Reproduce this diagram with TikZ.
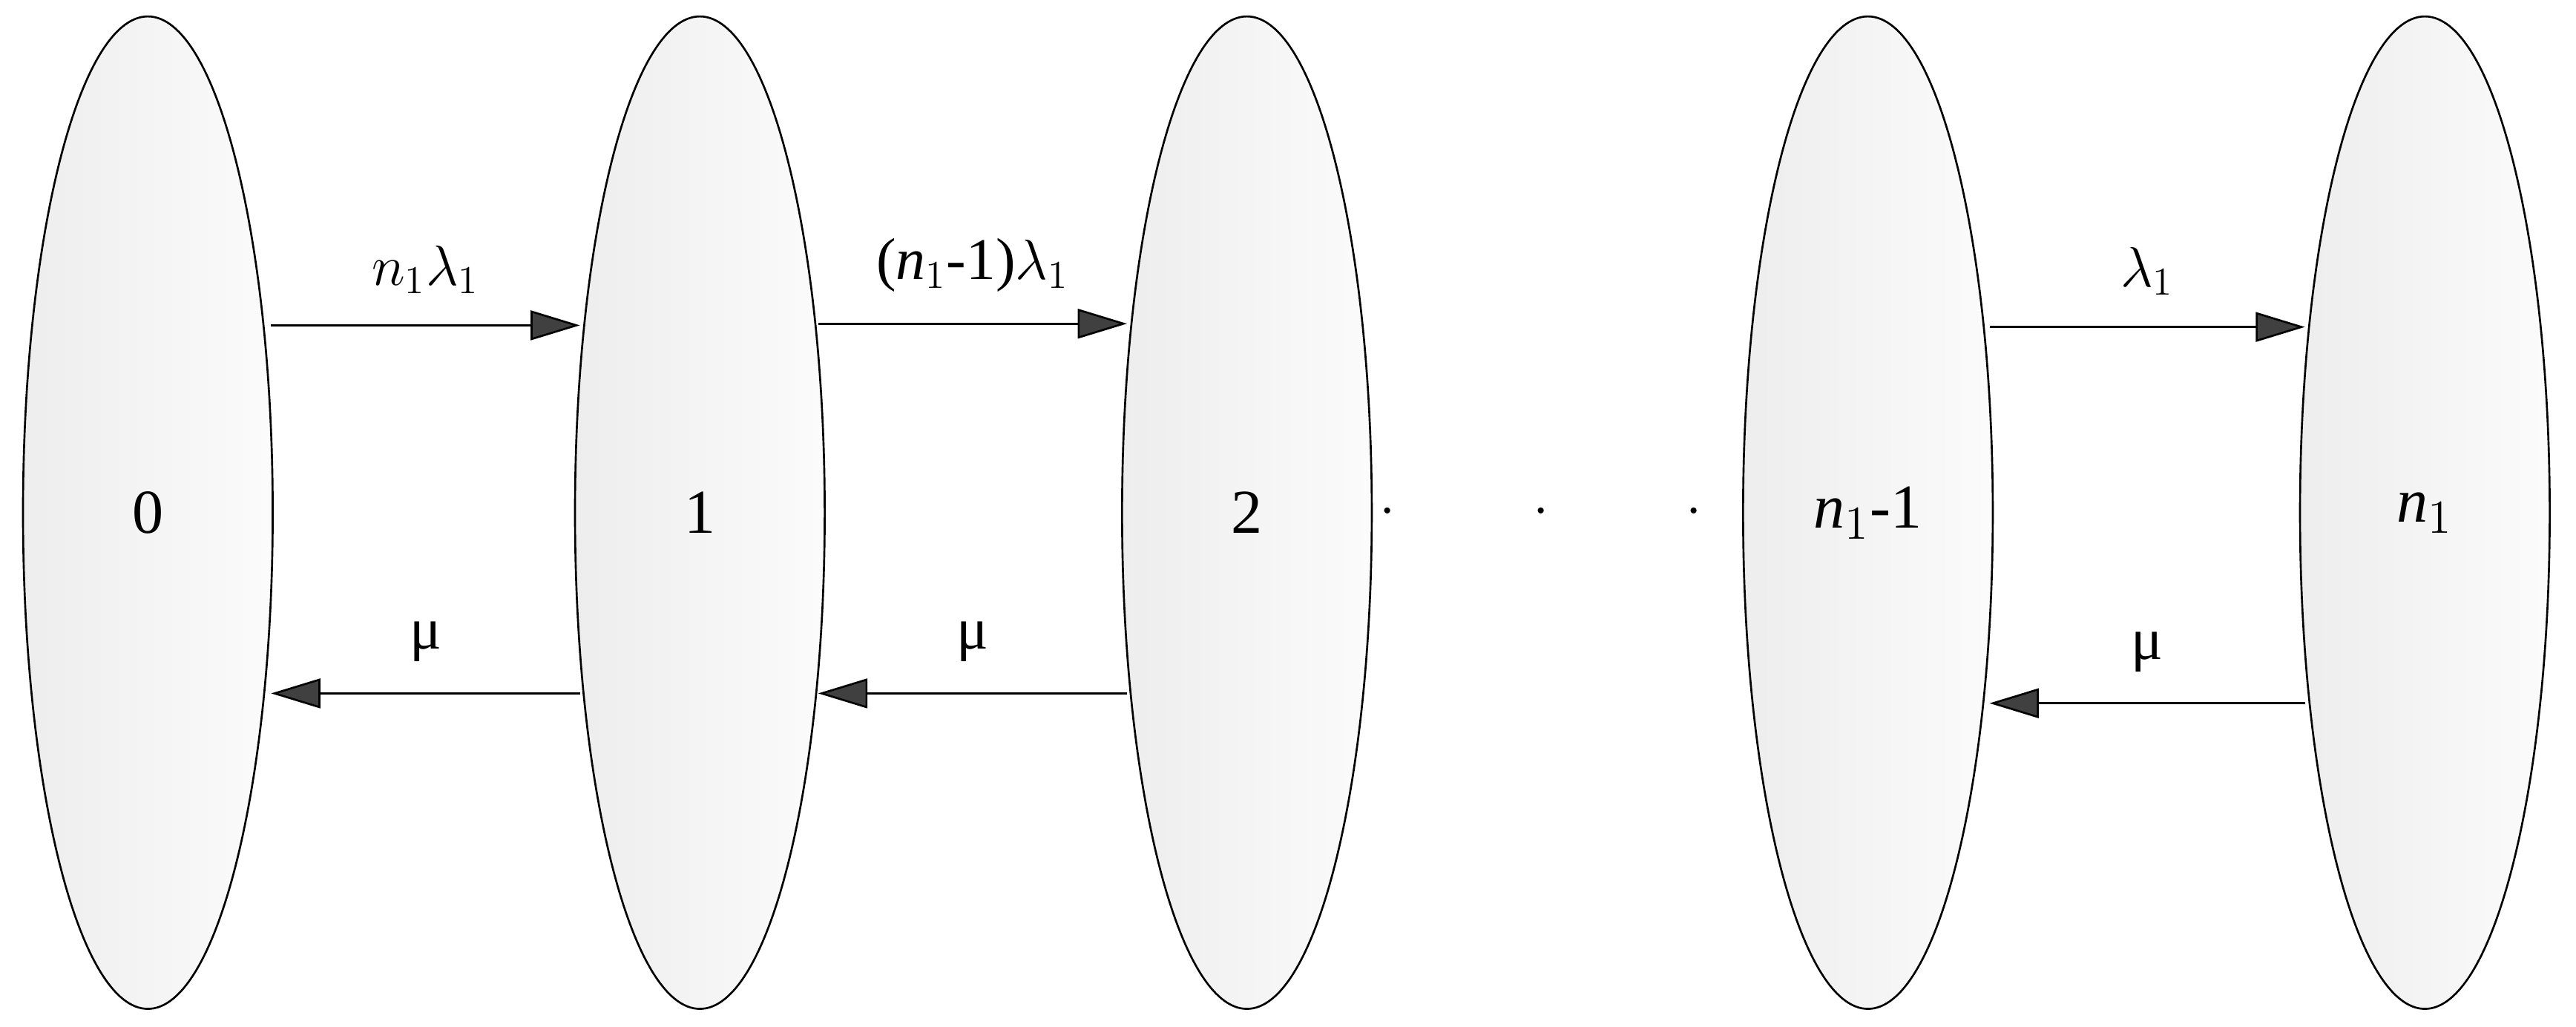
\documentclass[tikz,border=0pt]{standalone}
\usepackage{fontspec}
\setmainfont{Liberation Serif}
\usetikzlibrary{arrows.meta,shapes.geometric}
\begin{document}
\begin{tikzpicture}[x=0.5pt,y=-0.5pt,
  st/.style={ellipse,draw=black,line width=0.6pt,left color=gray!14,right color=gray!3,minimum width=76pt,minimum height=302pt,inner sep=0pt,font=\fontsize{19}{22}\selectfont},
  ar/.style={line width=0.6pt,-{Triangle[length=15pt,width=9pt,fill=black!75]}},
  lb/.style={font=\fontsize{18}{21}\selectfont}]
\useasboundingbox (0,0) rectangle (1568,625);
\node[st] (s0) at (90,312) {0};
\node[st] (s1) at (426,312) {1};
\node[st] (s2) at (759,312) {2};
\node[st] (s3) at (1137,312) {\textit{n}$_1$-1};
\node[st] (s4) at (1476,312) {\textit{n}$_1$};
\node[font=\fontsize{19}{22}\selectfont] (dots) at (938,312) {$\cdot\qquad\cdot\qquad\cdot$};
\draw[ar] (165,198) -- (353,198) node[lb,midway,above=6pt] {$n_1\lambda_1$};
\draw[ar] (498,197) -- (686,197) node[lb,midway,above=6pt] {(\textit{n}$_1$-1)$\lambda_1$};
\draw[ar] (1211,199) -- (1403,199) node[lb,midway,above=6pt] {$\lambda_1$};
\draw[ar] (353,422) -- (165,422) node[lb,midway,above=6pt] {μ};
\draw[ar] (686,422) -- (498,422) node[lb,midway,above=6pt] {μ};
\draw[ar] (1403,428) -- (1211,428) node[lb,midway,above=6pt] {μ};
\end{tikzpicture}
\end{document}
